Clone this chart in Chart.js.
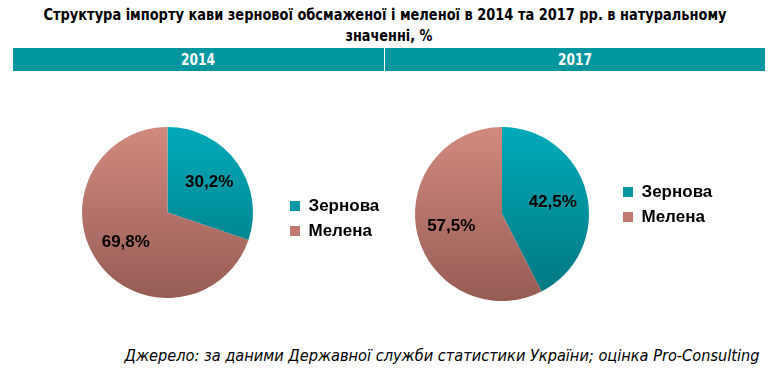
<!DOCTYPE html>
<html>
<head>
<meta charset="utf-8">
<script src="https://cdn.jsdelivr.net/npm/chart.js@4.4.1/dist/chart.umd.min.js"></script>
<style>
  html, body { margin: 0; padding: 0; background: #ffffff; }
  #wrap { position: relative; width: 777px; height: 374px; overflow: hidden; background: #fff; }
  canvas { position: absolute; left: 0; top: 0; }
  .txt { position: absolute; white-space: nowrap; line-height: 1; transform-origin: 50% 50%; }
  .narrow { font-family: "Liberation Sans Narrow", "DejaVu Sans Condensed", "Liberation Sans", sans-serif; }
  #bar { position: absolute; left: 13px; top: 48px; width: 752px; height: 23px; background: #0096A0; }
  #divider { position: absolute; left: 384px; top: 48px; width: 1px; height: 23px; background: #ffffff; }
</style>
</head>
<body>
<div id="wrap">
  <div id="bar"></div>
  <div id="divider"></div>
  <div class="txt narrow" id="t1" style="font-weight:bold;font-size:15px;color:#000" data-cx="384.5" data-cy="14.5" data-w="683"></div>
  <div class="txt narrow" id="t2" style="font-weight:bold;font-size:15px;color:#000" data-cx="388.5" data-cy="35.5" data-w="87"></div>
  <div class="txt narrow" id="y1" style="font-weight:bold;font-size:16px;color:#fff" data-cx="198" data-cy="59.5" data-w="34"></div>
  <div class="txt narrow" id="y2" style="font-weight:bold;font-size:16px;color:#fff" data-cx="574.5" data-cy="59.5" data-w="34"></div>
  <div class="txt narrow" id="src" style="font-style:italic;font-size:16px;color:#000" data-cx="441.5" data-cy="356" data-w="635"></div>
  <canvas id="c1" width="777" height="374"></canvas>
  <canvas id="c2" width="777" height="374"></canvas>
</div>
<script>
// ---- data ----
const categories = ['Зернова', 'Мелена'];
const years = ['2014', '2017'];
const values2014 = [30.2, 69.8];
const values2017 = [42.5, 57.5];
const titleLines = ['Структура імпорту кави зернової обсмаженої і меленої в 2014 та 2017 рр. в натуральному', 'значенні, %'];
const sourceText = 'Джерело: за даними Державної служби статистики України; оцінка Pro-Consulting';

// ---- texts ----
document.getElementById('t1').textContent = titleLines[0];
document.getElementById('t2').textContent = titleLines[1];
document.getElementById('y1').textContent = years[0];
document.getElementById('y2').textContent = years[1];
document.getElementById('src').textContent = sourceText;

function fitText(el) {
  const cx = +el.dataset.cx, cy = +el.dataset.cy, w = +el.dataset.w;
  el.style.left = cx + 'px';
  el.style.top = cy + 'px';
  el.style.transform = 'none';
  const natural = el.getBoundingClientRect().width;
  const s = natural > 0 ? w / natural : 1;
  el.style.transform = 'translate(-50%,-50%) scaleX(' + s.toFixed(4) + ')';
}
document.querySelectorAll('.txt').forEach(fitText);

// ---- styling ----
const gradStops = [
  ['#00AAB9', '#00767F'],   // Зернова
  ['#D28A7F', '#965C54']    // Мелена
];
const legendColors = ['#0097A3', '#C07A70'];

const layoutPlugin = {
  id: 'placeLayout',
  afterLayout(chart, args, opts) {
    const r = opts.r, cx = opts.cx, cy = opts.cy;
    chart.chartArea = { left: cx - r, top: cy - r, right: cx + r, bottom: cy + r, width: 2 * r, height: 2 * r };
    const lg = chart.legend;
    if (lg) {
      const w = lg.right - lg.left;
      lg.left = opts.legendX - lg.options.labels.padding;
      lg.right = lg.left + Math.max(w, 200);
      lg.top = opts.legendY - lg.options.labels.padding - 9.6;
      lg.bottom = lg.top + 200;
    }
  }
};

const labelPlugin = {
  id: 'sliceLabels',
  afterDatasetsDraw(chart) {
    const ctx = chart.ctx;
    const meta = chart.getDatasetMeta(0);
    const data = chart.data.datasets[0].data;
    ctx.save();
    ctx.font = 'bold 17px "Liberation Sans", Arial, sans-serif';
    ctx.fillStyle = '#000000';
    ctx.textAlign = 'center';
    ctx.textBaseline = 'middle';
    meta.data.forEach((arc, i) => {
      const p = arc.getProps(['x', 'y', 'startAngle', 'endAngle', 'outerRadius'], true);
      const mid = (p.startAngle + p.endAngle) / 2;
      const rr = p.outerRadius * 0.6;
      const x = p.x + Math.cos(mid) * rr;
      const y = p.y + Math.sin(mid) * rr;
      ctx.fillText(data[i].toFixed(1).replace('.', ',') + '%', x, y);
    });
    ctx.restore();
  }
};

function makePie(canvasId, values, place) {
  return new Chart(document.getElementById(canvasId), {
    type: 'pie',
    data: {
      labels: categories,
      datasets: [{
        data: values,
        borderWidth: 0,
        backgroundColor: (c) => {
          const area = c.chart.chartArea;
          const i = c.dataIndex;
          if (!area || i === undefined) return legendColors[i || 0];
          const g = c.chart.ctx.createLinearGradient(0, area.top, 0, area.bottom);
          g.addColorStop(0, gradStops[i][0]);
          g.addColorStop(1, gradStops[i][1]);
          return g;
        }
      }]
    },
    options: {
      responsive: false,
      animation: false,
      events: [],
      plugins: {
        tooltip: { enabled: false },
        legend: {
          display: true,
          position: 'right',
          align: 'start',
          labels: {
            boxWidth: 10,
            boxHeight: 10,
            padding: 8,
            color: '#000000',
            font: { family: '"Liberation Sans", Arial, sans-serif', size: 17, weight: 'bold' },
            generateLabels: (chart) => chart.data.labels.map((l, i) => ({
              text: l,
              fillStyle: legendColors[i],
              strokeStyle: legendColors[i],
              lineWidth: 0,
              hidden: false,
              index: i
            }))
          }
        },
        placeLayout: place
      }
    },
    plugins: [layoutPlugin, labelPlugin]
  });
}

makePie('c1', values2014, { cx: 167.5, cy: 212.5, r: 85.5, legendX: 290, legendY: 207 });
makePie('c2', values2017, { cx: 502, cy: 214, r: 87, legendX: 623, legendY: 193 });
</script>
</body>
</html>
